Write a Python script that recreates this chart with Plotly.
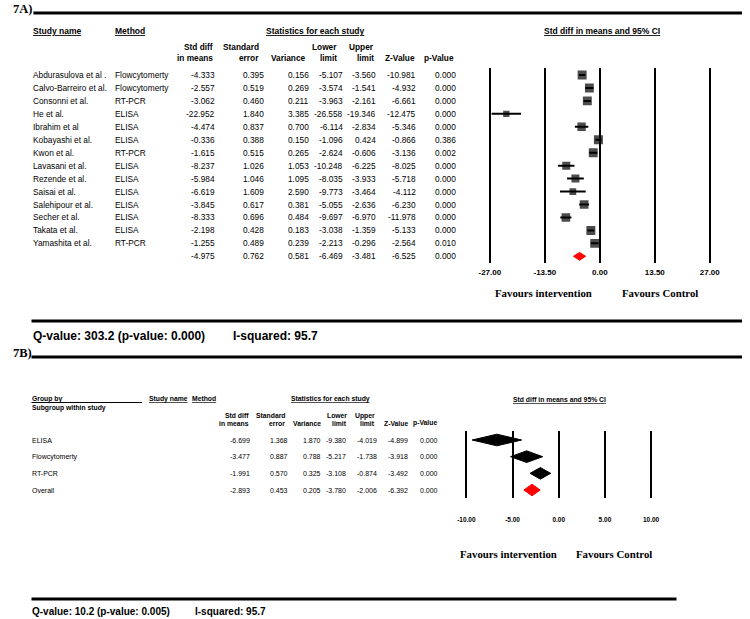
import plotly.graph_objects as go

W, H = 750, 619
SANS = "Arial, Liberation Sans, sans-serif"
SERIF = "Times New Roman, Liberation Serif, serif"

# ---------------- Panel 7A data ----------------
studies = ["Abdurasulova et al .", "Calvo-Barreiro et al.", "Consonni et al.", "He et al.",
           "Ibrahim et al", "Kobayashi et al.", "Kwon et al.", "Lavasani et al.", "Rezende et al.",
           "Saisai et al.", "Salehipour et al.", "Secher et al.", "Takata et al.", "Yamashita et al."]
methods = ["Flowcytomerty", "Flowcytomerty", "RT-PCR", "ELISA", "ELISA", "ELISA", "RT-PCR",
           "ELISA", "ELISA", "ELISA", "ELISA", "ELISA", "ELISA", "RT-PCR"]
std_diff = [-4.333, -2.557, -3.062, -22.952, -4.474, -0.336, -1.615, -8.237, -5.984, -6.619, -3.845, -8.333, -2.198, -1.255]
std_err = [0.395, 0.519, 0.460, 1.840, 0.837, 0.388, 0.515, 1.026, 1.046, 1.609, 0.617, 0.696, 0.428, 0.489]
variance = [0.156, 0.269, 0.211, 3.385, 0.700, 0.150, 0.265, 1.053, 1.095, 2.590, 0.381, 0.484, 0.183, 0.239]
lower = [-5.107, -3.574, -3.963, -26.558, -6.114, -1.096, -2.624, -10.248, -8.035, -9.773, -5.055, -9.697, -3.038, -2.213]
upper = [-3.560, -1.541, -2.161, -19.346, -2.834, 0.424, -0.606, -6.225, -3.933, -3.464, -2.636, -6.970, -1.359, -0.296]
z_value = [-10.981, -4.932, -6.661, -12.475, -5.346, -0.866, -3.136, -8.025, -5.718, -4.112, -6.230, -11.978, -5.133, -2.564]
p_value = [0.000, 0.000, 0.000, 0.000, 0.000, 0.386, 0.002, 0.000, 0.000, 0.000, 0.000, 0.000, 0.000, 0.010]
pooled_a = [-4.975, 0.762, 0.581, -6.469, -3.481, -6.525, 0.000]
ticks_a = [-27, -13.5, 0, 13.5, 27]
ticklabels_a = ["-27.00", "-13.50", "0.00", "13.50", "27.00"]
q_text_a = "Q-value: 303.2 (p-value: 0.000)"
i2_text_a = "I-squared: 95.7"

# ---------------- Panel 7B data ----------------
groups = ["ELISA", "Flowcytomerty", "RT-PCR", "Overall"]
b_std = [-6.699, -3.477, -1.991, -2.893]
b_se = [1.368, 0.887, 0.570, 0.453]
b_var = [1.870, 0.788, 0.325, 0.205]
b_low = [-9.380, -5.217, -3.108, -3.780]
b_up = [-4.019, -1.738, -0.874, -2.006]
b_z = [-4.899, -3.918, -3.492, -6.392]
b_p = [0.000, 0.000, 0.000, 0.000]
ticks_b = [-10, -5, 0, 5, 10]
ticklabels_b = ["-10.00", "-5.00", "0.00", "5.00", "10.00"]
q_text_b = "Q-value: 10.2 (p-value: 0.005)"
i2_text_b = "I-squared: 95.7"


def px(x):
    return x / W


def py(y):
    return 1 - y / H


fig = go.Figure()
ann = []
shapes = []


def text(x, y, s, size, anchor="left", bold=False, yref="paper", family=SANS, u=False):
    if u:
        s = "<u>" + s + "</u>"
    ann.append(dict(x=px(x), y=(py(y) if yref == "paper" else y), xref="paper", yref=yref,
                    text=s, showarrow=False, xanchor=anchor, yanchor="middle",
                    font=dict(family=family, size=size, color="black",
                              weight=("bold" if bold else "normal")),
                    borderpad=0))


def hline(x0, x1, y, w=3):
    shapes.append(dict(type="line", xref="paper", yref="paper", x0=px(x0), x1=px(x1),
                       y0=py(y), y1=py(y), line=dict(color="black", width=w)))


# ============ PANEL A layout geometry ============
A_row0, A_step, A_top, A_bot = 75.0, 12.95, 68.0, 263.0
A_xl, A_xr = 492.0, 717.0
A_scale = (A_xr - A_xl) / (ticks_a[-1] - ticks_a[0])
A_pad = 0.6
A_yrange = [(A_bot - A_row0) / A_step, (A_top - A_row0) / A_step]

text(3, 9, "7A)", 12.5, bold=True, family=SERIF)
hline(25, 750, 13, 3)
text(24, 31, "Study name", 8.5, bold=True, u=True)
text(107, 31, "Method", 8.5, bold=True, u=True)
text(314, 31, "Statistics for each study", 8.5, anchor="center", bold=True, u=True)
text(607, 31, "Std diff in means and 95% CI", 8.5, anchor="center", bold=True, u=True)

hdr_top = ["Std diff", "Standard", "", "Lower", "Upper", "", ""]
hdr_bot = ["in means", "error", "Variance", "limit", "limit", "Z-Value", "p-Value"]
A_hdr_right = [210, 257, 305, 337, 374, 416, 456]
A_val_right = [212, 262, 308, 343, 377, 417, 458]
for xr, t1, t2 in zip(A_hdr_right, hdr_top, hdr_bot):
    if t1:
        text(xr, 47, t1, 8.3, anchor="right", bold=True)
    text(xr, 58, t2, 8.3, anchor="right", bold=True)

cols_a = [std_diff, std_err, variance, lower, upper, z_value, p_value]
for i in range(len(studies)):
    text(24, i, studies[i], 8.3, yref="y")
    text(107, i, methods[i], 8.3, yref="y")
    for xr, col in zip(A_val_right, cols_a):
        text(xr, i, f"{col[i]:.3f}", 8.3, anchor="right", yref="y")
n = len(studies)
for xr, v in zip(A_val_right, pooled_a):
    text(xr, n, f"{v:.3f}", 8.3, anchor="right", yref="y")

text(547, 293, "Favours intervention", 10.8, anchor="center", bold=True, family=SERIF)
text(666, 293, "Favours Control", 10.8, anchor="center", bold=True, family=SERIF)

hline(23, 750, 321, 3)
text(24, 336, q_text_a, 12, bold=True)
text(228, 336, i2_text_a, 12, bold=True)

# study weights (random effects, DerSimonian-Laird) -> box size
wf = [1 / v for v in variance]
ybar = sum(w * y for w, y in zip(wf, std_diff)) / sum(wf)
Q = sum(w * (y - ybar) ** 2 for w, y in zip(wf, std_diff))
C = sum(wf) - sum(w * w for w in wf) / sum(wf)
tau2 = max(0.0, (Q - (n - 1)) / C)
wr = [1 / (v + tau2) for v in variance]
sizes = [9.0 * w / max(wr) for w in wr]

# CI lines
cx, cy = [], []
for i in range(n):
    cx += [lower[i], upper[i], None]
    cy += [i, i, None]
fig.add_trace(go.Scatter(x=cx, y=cy, mode="lines", line=dict(color="black", width=2),
                         xaxis="x", yaxis="y", hoverinfo="skip", showlegend=False))
fig.add_trace(go.Scatter(x=std_diff, y=list(range(n)), mode="markers",
                         marker=dict(symbol="square", color="black", size=sizes, line=dict(width=0)),
                         xaxis="x", yaxis="y", showlegend=False))
hA = 3.9 / A_step
fig.add_trace(go.Scatter(x=[pooled_a[3], pooled_a[0], pooled_a[4], pooled_a[0], pooled_a[3]],
                         y=[n, n - hA, n, n + hA, n], mode="lines", fill="toself",
                         fillcolor="red", line=dict(color="red", width=1),
                         xaxis="x", yaxis="y", showlegend=False))

# ============ PANEL B layout geometry ============
B_row0, B_step, B_top, B_bot = 440.0, 16.67, 431.0, 498.0
B_xl, B_xr = 468.0, 657.0
B_scale = (B_xr - B_xl) / (ticks_b[-1] - ticks_b[0])
B_pad = 0.3
B_yrange = [(B_bot - B_row0) / B_step, (B_top - B_row0) / B_step]

text(3, 353, "7B)", 12.5, bold=True, family=SERIF)
hline(23, 750, 357, 3)
text(23, 398.5, "Group by", 6.8, bold=True)
shapes.append(dict(type="line", xref="paper", yref="paper", x0=px(23), x1=px(136),
                   y0=py(402.5), y1=py(402.5), line=dict(color="black", width=1.2)))
text(23, 407.5, "Subgroup within study", 6.8, bold=True)
text(142, 398.5, "Study name", 6.8, bold=True, u=True)
text(186, 398.5, "Method", 6.8, bold=True, u=True)
text(329, 399, "Statistics for each study", 6.8, anchor="center", bold=True, u=True)
text(563, 399, "Std diff in means and 95% CI", 6.8, anchor="center", bold=True, u=True)

B_hdr_right = [247, 283, 320, 347, 375, 409, 439]
B_val_right = [248, 286, 320, 346, 378, 409, 440]
for xr, t1, t2 in zip(B_hdr_right, hdr_top, hdr_bot):
    if t1:
        text(xr, 415.5, t1, 6.8, anchor="right", bold=True)
    text(xr, 423.5, t2, 6.8, anchor="right", bold=True)

cols_b = [b_std, b_se, b_var, b_low, b_up, b_z, b_p]
for i in range(len(groups)):
    text(23, i, groups[i], 7, yref="y2")
    for xr, col in zip(B_val_right, cols_b):
        text(xr, i, f"{col[i]:.3f}", 7, anchor="right", yref="y2")

hB = 5.8 / B_step
for i in range(len(groups)):
    col = "red" if groups[i] == "Overall" else "black"
    fig.add_trace(go.Scatter(x=[b_low[i], b_std[i], b_up[i], b_std[i], b_low[i]],
                             y=[i, i - hB, i, i + hB, i], mode="lines", fill="toself",
                             fillcolor=col, line=dict(color=col, width=1),
                             xaxis="x2", yaxis="y2", showlegend=False))

text(511, 554, "Favours intervention", 10.8, anchor="center", bold=True, family=SERIF)
text(619, 554, "Favours Control", 10.8, anchor="center", bold=True, family=SERIF)

hline(23, 683, 599, 3)
text(23, 611, q_text_b, 10, bold=True)
text(189, 611, i2_text_b, 10, bold=True)

fig.update_layout(
    width=W, height=H, margin=dict(l=0, r=0, t=0, b=0),
    paper_bgcolor="white", plot_bgcolor="white", showlegend=False,
    annotations=ann, shapes=shapes,
    xaxis=dict(domain=[px(A_xl - A_pad * A_scale), px(A_xr + A_pad * A_scale)],
               range=[ticks_a[0] - A_pad, ticks_a[-1] + A_pad], anchor="y",
               tickvals=ticks_a, ticktext=ticklabels_a, showgrid=True, gridcolor="black",
               gridwidth=1.8, zeroline=False, showline=False, ticks="", ticklabelstandoff=3,
               tickfont=dict(family=SANS, size=8, color="black", weight="bold")),
    yaxis=dict(domain=[py(A_bot), py(A_top)], range=A_yrange, anchor="x",
               showgrid=False, zeroline=False, showticklabels=False, ticks=""),
    xaxis2=dict(domain=[px(B_xl - B_pad * B_scale), px(B_xr + B_pad * B_scale)],
                range=[ticks_b[0] - B_pad, ticks_b[-1] + B_pad], anchor="y2",
                tickvals=ticks_b, ticktext=ticklabels_b, showgrid=True, gridcolor="black",
                gridwidth=1.8, zeroline=False, showline=False, ticks="", ticklabelstandoff=16,
                tickfont=dict(family=SANS, size=6.5, color="black", weight="bold")),
    yaxis2=dict(domain=[py(B_bot), py(B_top)], range=B_yrange, anchor="x2",
                showgrid=False, zeroline=False, showticklabels=False, ticks=""),
)

fig.write_html("out.html", config={"displayModeBar": False},
               post_script="document.body.style.margin='0px';")
